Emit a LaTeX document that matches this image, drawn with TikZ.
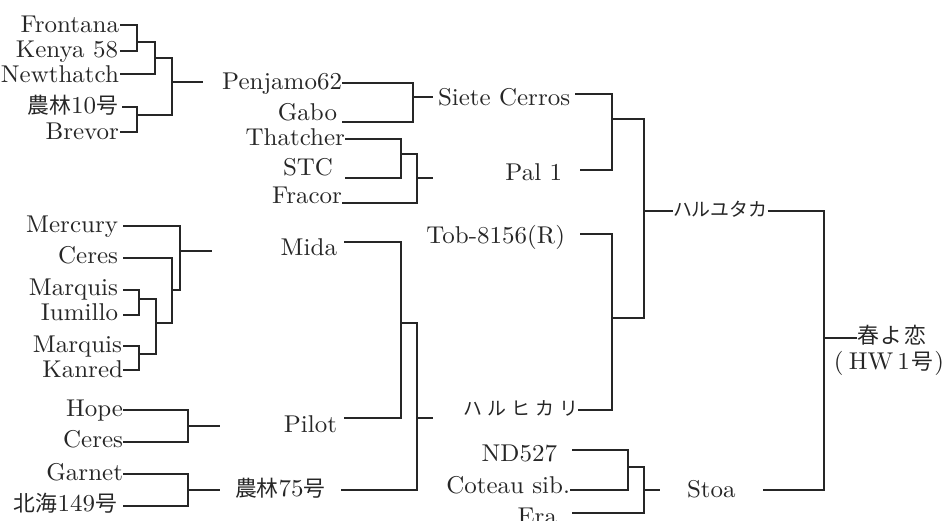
\documentclass[tikz,border=0pt]{standalone}
\usepackage{fontspec}
\setmainfont{lmroman10-regular.otf}[FakeStretch=1.03]
\newfontfamily\cjk{Noto Sans CJK JP}[Scale=0.9]
\newfontfamily\kana{Noto Sans CJK JP}[Scale=0.78]
\newcommand\ls{\kern3.8pt}
\begin{document}
\begin{tikzpicture}[x=0.75pt,y=-0.75pt,
  ln/.style={line width=1pt, draw=black!85},
  lbl/.style={inner sep=0pt, outer xsep=0.75pt,
    font=\fontsize{18.2}{22}\selectfont, text=black!85},
  gap/.style={outer xsep=#1*0.75pt}]
\useasboundingbox (0,0) rectangle (950,521);
% ---- left top group
\node[lbl,anchor=base east,gap=1] (fro) at (120,32) {Frontana};
\node[lbl,anchor=base east,gap=2] (ken) at (120,57) {Kenya 58};
\node[lbl,anchor=base east,gap=1] (new) at (120,82) {Newthatch};
\node[lbl,anchor=base east,gap=4] (n10) at (122,113) {{\cjk 農林}10{\cjk 号}};
\node[lbl,anchor=base east,gap=1] (bre) at (120,139) {Brevor};
\draw[ln] (fro.east |- 0,25) -- (137,25) -- (137,51) -- (ken.east |- 0,51);
\draw[ln] (new.east |- 0,74) -- (155,74) -- (155,42) -- (137,42);
\draw[ln] (n10.east |- 0,107) -- (137,107) -- (137,132) -- (bre.east |- 0,132);
\draw[ln] (155,58) -- (172,58) -- (172,115) -- (137,115);
\coordinate (penin) at (203,82);
\draw[ln] (172,82) -- (penin);
% ---- column 2 top
\node[lbl,anchor=base east,gap=0] (pen) at (342,89) {Penjamo62};
\node[lbl,anchor=base east,gap=5] (gab) at (342,120) {Gabo};
\node[lbl,anchor=base west,gap=5] (sie) at (433,105) {Siete Cerros};
\draw[ln] (pen.east |- 0,83) -- (413,83) -- (413,122) -- (gab.east |- 0,122);
\draw[ln] (413,97) -- (sie.west |- 0,97);
\node[lbl,anchor=base east,gap=0] (tha) at (345,145) {Thatcher};
\node[lbl,anchor=base east,gap=12] (stc) at (345,175) {STC};
\node[lbl,anchor=base east,gap=0] (fra) at (342,203) {Fracor};
\draw[ln] (tha.east |- 0,139) -- (401,139) -- (401,178) -- (stc.east |- 0,178);
\draw[ln] (401,154) -- (417,154) -- (417,203) -- (fra.east |- 0,203);
\coordinate (thaout) at (433,178);
\draw[ln] (417,178) -- (thaout);
% ---- left middle group
\node[lbl,anchor=base east,gap=5] (mer) at (123,232) {Mercury};
\node[lbl,anchor=base east,gap=5] (ce1) at (123,263) {Ceres};
\node[lbl,anchor=base east,gap=5] (ma1) at (123,295) {Marquis};
\node[lbl,anchor=base east,gap=5] (ium) at (123,320) {Iumillo};
\node[lbl,anchor=base east,gap=1] (ma2) at (123,352) {Marquis};
\node[lbl,anchor=base east,gap=0] (kan) at (123,377) {Kanred};
\draw[ln] (ma1.east |- 0,290) -- (139,290) -- (139,315) -- (ium.east |- 0,315);
\draw[ln] (ma2.east |- 0,346) -- (139,346) -- (139,370) -- (kan.east |- 0,370);
\draw[ln] (139,299) -- (156,299) -- (156,354) -- (139,354);
\draw[ln] (156,323) -- (172,323) -- (172,258) -- (ce1.east |- 0,258);
\draw[ln] (172,290) -- (180,290) -- (180,226) -- (mer.east |- 0,226);
\coordinate (merout) at (212,251);
\draw[ln] (180,251) -- (merout);
% ---- left bottom groups
\node[lbl,anchor=base east,gap=0] (hop) at (123,416) {Hope};
\node[lbl,anchor=base east,gap=0] (ce2) at (123,447) {Ceres};
\draw[ln] (hop.east |- 0,410) -- (188,410) -- (188,442) -- (ce2.east |- 0,442);
\coordinate (hopout) at (220,426);
\draw[ln] (188,426) -- (hopout);
\node[lbl,anchor=base east,gap=0] (gar) at (123,480) {Garnet};
\node[lbl,anchor=base east,gap=6] (hok) at (123,511) {{\cjk 北海}149{\cjk 号}};
\node[lbl,anchor=base west,gap=15] (n75) at (220,496) {{\cjk 農林}75{\cjk 号}};
\draw[ln] (gar.east |- 0,474) -- (188,474) -- (188,506) -- (hok.east |- 0,506);
\draw[ln] (188,490) -- (n75.west |- 0,490);
% ---- middle column
\node[lbl,anchor=base east,gap=7] (mid) at (344,255) {Mida};
\node[lbl,anchor=base east,gap=7] (pil) at (344,432) {Pilot};
\draw[ln] (mid.east |- 0,242) -- (401,242) -- (401,418) -- (pil.east |- 0,418);
\draw[ln] (401,323) -- (417,323) -- (417,490) -- (n75.east |- 0,490);
\coordinate (n75out) at (433,418);
\draw[ln] (417,418) -- (n75out);
% ---- column 3
\node[lbl,anchor=base east,gap=18] (pal) at (580,180) {Pal 1};
\draw[ln] (sie.east |- 0,94) -- (612,94) -- (612,170) -- (pal.east |- 0,170);
\node[lbl,anchor=base east,gap=15] (tob) at (580,243) {Tob-8156(R)};
\node[lbl,anchor=base east,gap=0] (hhk) at (578,415) {\kana ハ\ls ル\ls ヒ\ls カ\ls リ};
\draw[ln] (tob.east |- 0,234) -- (612,234) -- (612,410) -- (hhk.east |- 0,410);
\draw[ln] (612,318) -- (644,318) -- (644,119) -- (612,119);
\node[lbl,anchor=base west,gap=0] (hyt) at (673,216) {\kana ハルユタカ};
\draw[ln] (644,211) -- (hyt.west |- 0,211);
\node[lbl,anchor=base east,gap=15] (nd) at (572,461) {ND527};
\node[lbl,anchor=base east,gap=0] (cot) at (570,493) {Coteau sib.};
\node[lbl,anchor=base east,gap=15] (era) at (572,524) {Era};
\draw[ln] (nd.east |- 0,450) -- (628,450) -- (628,490) -- (cot.east |- 0,490);
\draw[ln] (628,467) -- (644,467) -- (644,513) -- (era.east |- 0,513);
\node[lbl,anchor=base west,gap=27] (sto) at (660,497) {Stoa};
\draw[ln] (644,490) -- (sto.west |- 0,490);
% ---- final
\draw[ln] (hyt.east |- 0,211) -- (824,211) -- (824,490) -- (sto.east |- 0,490);
\node[lbl,anchor=base west,gap=0] (hyk) at (857,343) {\cjk 春\kern1.5pt よ\kern1.5pt 恋};
\draw[ln] (824,338) -- (hyk.west |- 0,338);
\node[lbl,anchor=base east,gap=0] (hw) at (944,369) {(\kern4pt HW\kern3pt 1\kern1pt{\cjk 号}\kern1pt)};
\end{tikzpicture}
\end{document}
